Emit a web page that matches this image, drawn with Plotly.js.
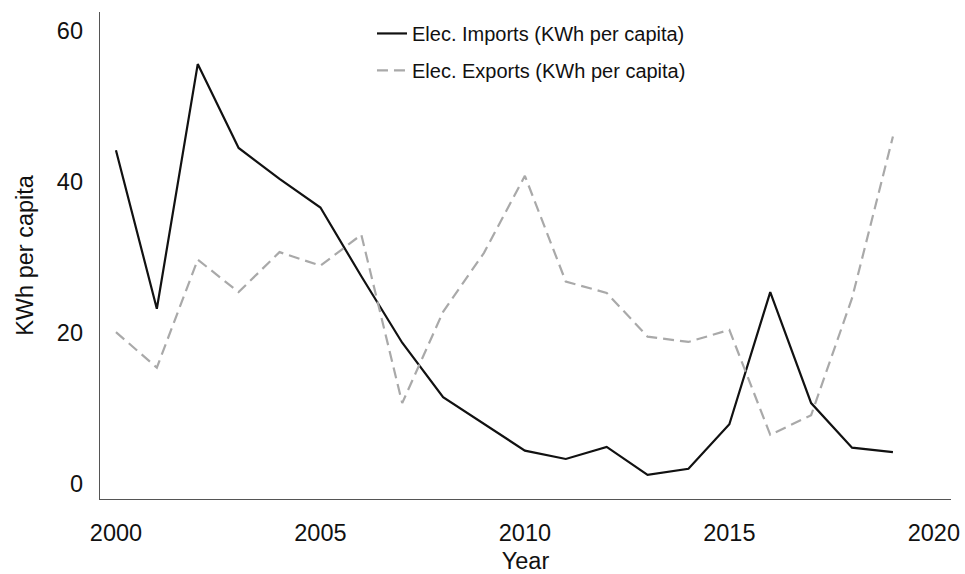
<!DOCTYPE html>
<html>
<head>
<meta charset="utf-8">
<script src="https://cdn.plot.ly/plotly-3.0.1.min.js"></script>
<style>
  html, body { margin: 0; padding: 0; background: #fff; }
  #chart { width: 965px; height: 574px; }
</style>
</head>
<body>
<div id="chart"></div>
<script>
// Electricity trade per person, 2000-2019
const years = [2000, 2001, 2002, 2003, 2004, 2005, 2006, 2007, 2008, 2009,
               2010, 2011, 2012, 2013, 2014, 2015, 2016, 2017, 2018, 2019];
const importsKWh = [44.2, 23.2, 55.6, 44.5, 40.4, 36.6, 27.5, 18.7, 11.5, 7.9,
                    4.4, 3.3, 4.9, 1.2, 2.0, 7.9, 25.4, 10.7, 4.8, 4.2];
const exportsKWh = [20.1, 15.4, 29.7, 25.4, 30.7, 28.9, 33.0, 10.7, 22.8, 30.6,
                    40.8, 26.8, 25.3, 19.5, 18.8, 20.4, 6.5, 9.1, 24.6, 46.0];
const seriesNames = ['Elec. Imports (KWh per capita)', 'Elec. Exports (KWh per capita)'];
const xTicks = [2000, 2005, 2010, 2015, 2020];
const yTicks = [0, 20, 40, 60];

const font = 'Liberation Sans, Arial, sans-serif';

const traces = [
  {
    x: years, y: importsKWh, name: seriesNames[0], type: 'scatter', mode: 'lines',
    line: { color: '#111111', width: 2.2 }, legendgroup: 'a'
  },
  {
    x: years, y: exportsKWh, name: seriesNames[1], type: 'scatter', mode: 'lines',
    line: { color: '#a9a9a9', width: 2.2, dash: '11px,6px' }, legendgroup: 'b'
  }
];

const layout = {
  width: 965, height: 574,
  margin: { l: 100, r: 14, t: 12, b: 75 },
  paper_bgcolor: '#ffffff', plot_bgcolor: '#ffffff',
  font: { family: font, color: '#111111' },
  showlegend: true,
  legend: {
    x: 0.3196, xanchor: 'left', y: 0.996, yanchor: 'top',
    font: { family: font, size: 20, color: '#111111' },
    bgcolor: 'rgba(0,0,0,0)', borderwidth: 0,
    traceorder: 'grouped', tracegroupgap: 8
  },
  xaxis: {
    range: [1999.61, 2020.42],
    tickvals: xTicks, ticktext: xTicks.map(String),
    showgrid: false, zeroline: false,
    showline: true, linecolor: '#555555', linewidth: 1.3,
    ticks: 'outside', ticklen: 12, tickcolor: 'rgba(0,0,0,0)',
    tickfont: { family: font, size: 23.5, color: '#111111' },
    title: { text: 'Year', font: { family: font, size: 23.5, color: '#111111' }, standoff: 8 }
  },
  yaxis: {
    range: [-2.0, 62.5],
    tickvals: yTicks, ticktext: yTicks.map(String),
    showgrid: false, zeroline: false,
    showline: true, linecolor: '#555555', linewidth: 1.3,
    ticks: 'outside', ticklen: 11, tickcolor: 'rgba(0,0,0,0)',
    tickfont: { family: font, size: 23.5, color: '#111111' },
    title: { text: 'KWh per capita', font: { family: font, size: 23.5, color: '#111111' }, standoff: 16 }
  }
};

Plotly.newPlot('chart', traces, layout, { staticPlot: true, displayModeBar: false });
</script>
</body>
</html>
